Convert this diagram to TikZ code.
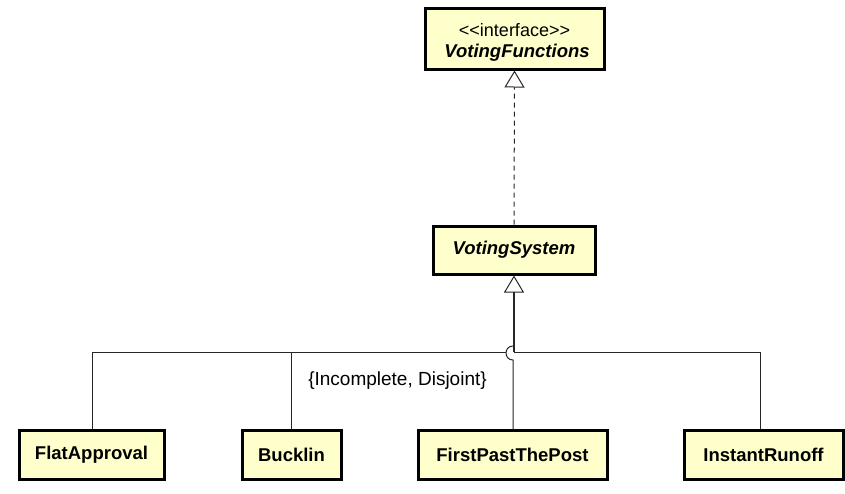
\documentclass[tikz,border=0pt]{standalone}
\usepackage{fontspec}
\setmainfont{Liberation Sans}
\usetikzlibrary{arrows.meta}
\definecolor{boxfill}{HTML}{FFFFCC}
\begin{document}
\begin{tikzpicture}[x=1pt,y=-1pt,
  cls/.style={draw=black,line width=3pt,fill=boxfill,rectangle,inner sep=0pt,
    font=\fontsize{18.5}{21}\selectfont\bfseries},
  conn/.style={draw=black!85,line width=1pt},
  gen/.style={-{Triangle[open,length=17pt,width=20pt,line width=1pt]}},
]
\useasboundingbox (0,0) rectangle (845,493);
\fill[white] (0,0) rectangle (845,493);
% classes
\node[cls,minimum width=179pt,minimum height=61pt] (vf) at (514.5,38.5) {};
\node[font=\fontsize{18}{20}\selectfont,inner sep=0pt] (vft) at (514.5,30) {\textless\kern0pt\textless interface\textgreater\kern0pt\textgreater};
\node[font=\fontsize{18.5}{20}\selectfont\bfseries\itshape,inner sep=0pt] (vfn) at (517,52.5) {VotingFunctions};
\node[cls,minimum width=162pt,minimum height=48pt,font=\fontsize{18.5}{20}\selectfont\bfseries\itshape] (vs) at (514,250) {VotingSystem};
\node[cls,minimum width=145pt,minimum height=49pt] (fa) at (91.5,454.5) {FlatApproval};
\node[cls,minimum width=99pt,minimum height=49pt] (bu) at (291.5,454.5) {Bucklin};
\node[cls,minimum width=189pt,minimum height=49pt] (fp) at (512.5,455) {FirstPastThePost};
\node[cls,minimum width=159pt,minimum height=49pt] (ir) at (763.5,455) {InstantRunoff};
% label
\node[font=\fontsize{19}{21}\selectfont,inner sep=0pt] (lbl) at (397.5,381) {\{Incomplete, Disjoint\}};
% coordinates
\coordinate (j) at (514,352);
\coordinate (hl) at (506,352);
\coordinate (hb) at (513,360);
\coordinate (ht) at (513,346);
\coordinate (cfa) at (92,352);
\coordinate (cbu) at (291,352);
\coordinate (cir) at (760,352);
% realization
\draw[conn,gen,dash pattern=on 5pt off 4pt] (vs.north) -- (vf.south);
% generalization
\draw[conn,gen,line width=1.3pt] (j) -- (vs.south);
\draw[conn] (fa.north -| cfa) -- (cfa) -- (hl);
\draw[conn] (bu.north -| cbu) -- (cbu);
\draw[conn] (j) -- (cir) -- (ir.north -| cir);
\draw[conn] (fp.north -| hb) -- (hb) .. controls (503.7,360) and (503.7,346) .. (ht);
\end{tikzpicture}
\end{document}
